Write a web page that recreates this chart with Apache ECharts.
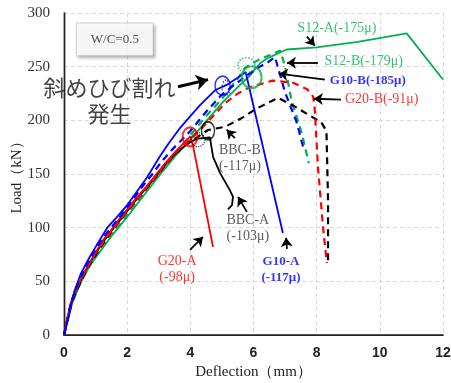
<!DOCTYPE html>
<html>
<head>
<meta charset="utf-8">
<script src="https://cdn.jsdelivr.net/npm/echarts@6/dist/echarts.min.js"></script>
<style>
  html, body { margin: 0; padding: 0; background: #fff; }
  #main { width: 451px; height: 383px; }
</style>
</head>
<body>
<div id="main"></div>
<script>
// 荷重-たわみ曲線 (W/C=0.5)
const xTicks = [0, 2, 4, 6, 8, 10, 12];
const yTicks = [0, 50, 100, 150, 200, 250, 300];

// [たわみ(mm), 荷重(kN)]
const g20A = [[0,0],[0.1,15],[0.2,29],[0.3,36],[0.45,47],[0.6,56],[0.8,67],[1.0,77],[1.25,89],[1.5,98],[1.75,108],[2.0,117],[2.3,128],[2.6,138],[2.9,149],[3.2,160],[3.5,170],[3.8,179],[4.0,185],[4.08,177],[4.72,82]];
const g20B = [[0,0],[0.12,17],[0.25,32],[0.4,44],[0.6,55],[0.8,66],[1.0,76],[1.3,89],[1.6,100],[1.9,112],[2.2,122],[2.5,133],[2.8,144],[3.1,155],[3.4,165],[3.7,175],[4.0,182],[4.5,197],[5.1,216],[5.5,225],[5.9,231],[6.6,237],[7.25,235],[7.7,229],[7.89,222],[7.94,210],[8.04,157],[8.2,101],[8.32,67]];
const g10A = [[0,0],[0.16,18],[0.32,40],[0.53,57],[0.8,72],[1.04,84],[1.37,100],[1.68,110],[2.0,121],[2.27,132],[2.63,147],[3.05,167],[3.3,178],[3.65,192],[4.0,204],[4.3,214],[4.78,228],[5.15,233],[5.57,241],[5.75,245],[6.93,95]];
const g10B = [[0,0],[0.12,16],[0.25,33],[0.45,49],[0.7,64],[1.0,80],[1.3,93],[1.6,104],[1.9,115],[2.2,127],[2.5,139],[2.8,150],[3.1,162],[3.4,172],[3.7,181],[4.0,190],[4.5,208],[5.0,224],[5.35,232],[5.8,242],[6.2,250],[6.45,254],[6.68,259],[7.0,226],[7.37,198],[7.6,172]];
const s12A = [[0,0],[0.1,12],[0.25,29],[0.5,47],[0.75,61],[1.0,72],[1.25,82],[1.5,92],[1.75,101],[2.0,110],[2.5,129],[3.0,148],[3.5,166],[4.0,182],[4.5,199],[5.0,216],[5.5,231],[5.9,242],[6.2,253],[6.45,258],[7.05,266],[8.0,268],[9.3,273],[10.85,281],[12,238]];
const s12B = [[0,0],[0.1,14],[0.25,30],[0.5,48],[0.75,62],[1.0,74],[1.3,87],[1.6,97],[1.9,108],[2.2,120],[2.6,135],[3.0,151],[3.5,169],[4.0,186],[4.5,204],[5.0,220],[5.5,239],[5.73,249],[6.2,257],[6.6,262],[6.85,265],[7.0,250],[7.2,219],[7.53,188],[7.75,160]];
const bbcA = [[0,0],[0.12,16],[0.22,30],[0.35,39],[0.5,49],[0.7,61],[0.9,71],[1.2,85],[1.5,97],[1.8,108],[2.1,119],[2.4,130],[2.7,140],[3.0,151],[3.3,162],[3.6,171],[4.0,180],[4.24,183],[4.62,184],[4.72,166],[4.94,151],[5.25,135],[5.35,129],[5.32,121],[5.19,117]];
const bbcB = [[0,0],[0.1,13],[0.22,28],[0.35,38],[0.55,51],[0.8,65],[1.1,79],[1.4,92],[1.7,104],[2.0,115],[2.3,126],[2.6,136],[2.9,147],[3.2,158],[3.5,168],[3.8,176],[4.0,180],[4.56,191],[5.1,194],[5.62,202],[6.1,211],[6.78,221],[7.3,213],[8.15,198],[8.31,190],[8.36,126],[8.36,68]];

// 斜めひび割れ発生点
const crackG20A = [3.99, 184.7];
const crackBbcA = [4.24, 181.9];
const crackBbcB = [4.56, 190.3];
const crackG10A = [5.02, 232.3];
const crackG10B = [5.13, 230.4];
const crackS12A = [5.94, 240.2];
const crackS12B = [5.78, 251.4];

const RED = '#ff0000', BLUE = '#0000ff', GREEN = '#00b050', BLACK = '#000000';
const serif = '"Liberation Serif", "Times New Roman", serif';

const chart = echarts.init(document.getElementById('main'));

function curve(name, data, color, dashed) {
  return {
    name, type: 'line', data, showSymbol: false, symbol: 'none', animation: false,
    lineStyle: { color, width: dashed ? 2.2 : 1.8, type: dashed ? [7, 5] : 'solid' }
  };
}

function ring(pt, color, size, width, type) {
  return {
    type: 'scatter', data: [pt], symbol: 'circle', symbolSize: size, animation: false, z: 5,
    itemStyle: { color: 'rgba(0,0,0,0)', borderColor: color, borderWidth: width, borderType: type }
  };
}

function note(text, pos, color, opts) {
  opts = opts || {};
  return {
    type: 'scatter', data: [pos], symbolSize: 0, animation: false, clip: false, z: 6,
    silent: true,
    label: {
      show: true, position: 'inside', formatter: text, color,
      fontFamily: opts.family || serif, fontSize: opts.size || 14,
      fontWeight: opts.weight || 'normal', lineHeight: opts.lineHeight || 16,
      align: 'center', verticalAlign: 'middle',
      backgroundColor: opts.bg, borderColor: opts.border, borderWidth: opts.border ? 1 : 0,
      padding: opts.padding || 0,
      shadowColor: opts.shadow, shadowBlur: opts.shadow ? 3 : 0,
      shadowOffsetX: opts.shadow ? 2 : 0, shadowOffsetY: opts.shadow ? 2 : 0
    }
  };
}

function arrow(from, to, width, size) {
  return {
    type: 'lines', coordinateSystem: 'cartesian2d', animation: false, z: 6, silent: true,
    symbol: ['none', 'arrow'], symbolSize: size || 9,
    lineStyle: { color: BLACK, width: width || 1.8, opacity: 1, curveness: 0 },
    data: [{ coords: [from, to] }]
  };
}

const option = {
  backgroundColor: '#fff',
  animation: false,
  grid: { left: 64, right: 8, top: 13, bottom: 48, containLabel: false, outerBoundsMode: 'none' },
  xAxis: [{
    type: 'value', min: xTicks[0], max: xTicks[xTicks.length - 1], interval: 2,
    name: 'Deflection（mm）', nameLocation: 'middle', nameGap: 30, nameMoveOverlap: false,
    nameTextStyle: { fontFamily: serif, fontSize: 15, color: '#222' },
    axisLine: { show: true, lineStyle: { color: '#222', width: 1.5 } },
    axisTick: { show: false },
    axisLabel: { fontFamily: '"Liberation Sans", Arial, sans-serif', fontWeight: 'bold', fontSize: 14, color: '#222', margin: 11 },
    splitLine: { show: true, lineStyle: { color: '#d9d9d9', type: [4, 3], width: 1 } }
  }, {
    type: 'value', position: 'top', min: 0, max: 12,
    axisLine: { show: true, lineStyle: { color: '#222', width: 1.2 } },
    axisTick: { show: false }, axisLabel: { show: false }, splitLine: { show: false }
  }],
  yAxis: [{
    type: 'value', min: yTicks[0], max: yTicks[yTicks.length - 1], interval: 50,
    name: 'Load（kN）', nameLocation: 'middle', nameGap: 39, nameRotate: 90, nameMoveOverlap: false,
    nameTextStyle: { fontFamily: serif, fontSize: 15, color: '#222' },
    axisLine: { show: true, lineStyle: { color: '#a6a6a6', width: 2.5 } },
    axisTick: { show: false },
    axisLabel: { fontFamily: serif, fontSize: 15, color: '#333', margin: 14 },
    splitLine: { show: true, lineStyle: { color: '#d9d9d9', type: [4, 3], width: 1 } }
  }, {
    type: 'value', position: 'right', min: 0, max: 300,
    axisLine: { show: true, lineStyle: { color: '#222', width: 1.2 } },
    axisTick: { show: false }, axisLabel: { show: false }, splitLine: { show: false }
  }],
  series: [
    curve('S12-A', s12A, GREEN, false),
    curve('S12-B', s12B, GREEN, true),
    curve('BBC-A', bbcA, BLACK, false),
    curve('BBC-B', bbcB, BLACK, true),
    curve('G20-A', g20A, RED, false),
    curve('G20-B', g20B, RED, true),
    curve('G10-A', g10A, BLUE, false),
    curve('G10-B', g10B, BLUE, true),

    ring(crackG20A, RED, [15, 19], 2, 'solid'),
    ring(crackBbcA, BLACK, [14, 14], 1.2, 'dotted'),
    ring(crackBbcB, BLACK, [13, 18], 1.6, 'solid'),
    ring(crackG10A, BLUE, [15, 19], 1.6, 'solid'),
    ring(crackG10B, BLUE, [8, 15], 1.5, 'dotted'),
    ring(crackS12A, GREEN, [20, 22], 2, 'solid'),
    ring(crackS12B, GREEN, [17, 15], 1.5, 'dotted'),

    note('W/C=0.5', [1.61, 275.2], '#222', { size: 13, bg: '#fff', border: '#c8c8c8', padding: [8, 14], shadow: 'rgba(0,0,0,0.25)' }),
    note('斜めひび割れ\n発生', [1.44, 218.3], '#111', { family: '"Noto Sans CJK JP", sans-serif', size: 22, lineHeight: 26 }),
    note('BBC-B\n(-117μ)', [5.57, 164.6], '#333', {}),
    note('BBC-A\n(-103μ)', [5.82, 99.3], '#333', {}),
    note('G20-A\n(-98μ)', [3.58, 61.1], RED, {}),
    note('G10-A\n(-117μ)', [6.87, 61.1], BLUE, { weight: 'bold', size: 13 }),
    note('S12-A(-175μ)', [8.64, 285.4], GREEN, {}),
    note('S12-B(-179μ)', [9.49, 254.7], GREEN, {}),
    note('G10-B(-185μ)', [9.62, 236.9], BLUE, { weight: 'bold', size: 13 }),
    note('G20-B(-91μ)', [10.06, 219.2], RED, {}),

    arrow([3.61, 231.3], [4.56, 237.9], 3, 12),
    arrow([5.41, 183.5], [5.15, 191.3]),
    arrow([5.79, 114.7], [5.51, 128.7]),
    arrow([3.99, 79.3], [4.40, 91.4]),
    arrow([7.06, 80.2], [7.03, 90.5]),
    arrow([7.69, 278.0], [7.94, 269.6]),
    arrow([8.04, 253.7], [7.06, 253.7]),
    arrow([8.26, 237.9], [6.80, 243.5]),
    arrow([8.77, 219.2], [7.91, 220.1])
  ]
};

chart.setOption(option);
</script>
</body>
</html>
